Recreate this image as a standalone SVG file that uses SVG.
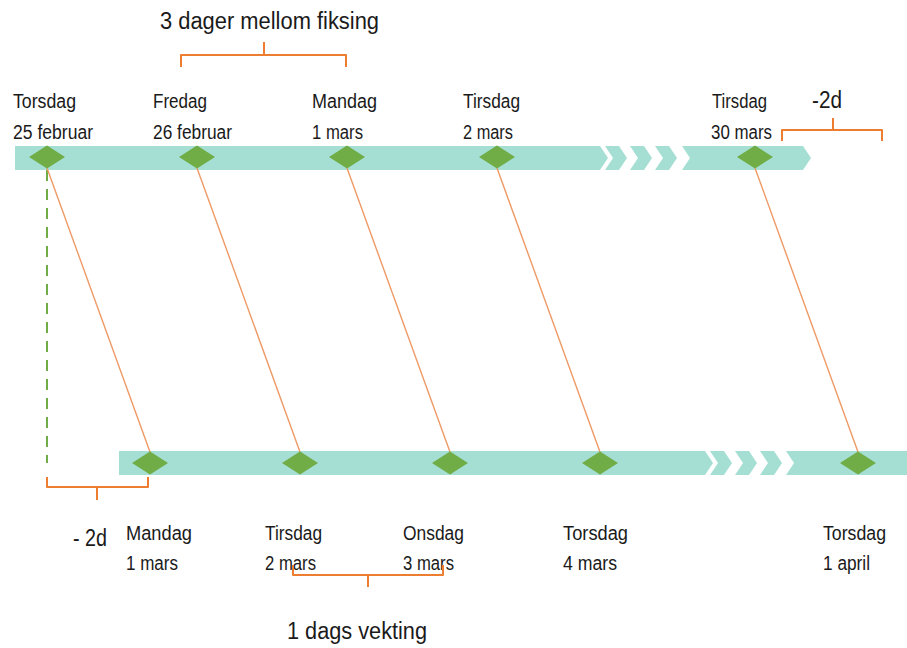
<svg xmlns="http://www.w3.org/2000/svg" width="907" height="648" viewBox="0 0 907 648">
<defs>
<style>
.bar{fill:#A5DFD3}
.dia{fill:#70AD47}
.lbl{font-family:"Liberation Sans",Arial,sans-serif;font-size:19.5px;fill:#1a1a1a}
.big{font-family:"Liberation Sans",Arial,sans-serif;font-size:23px;fill:#1a1a1a}
.br{fill:none;stroke:#ED7D31;stroke-width:2;stroke-linejoin:round}
.con{stroke:#EE9A66;stroke-width:1.4;fill:none}
.dash{stroke:#70AD47;stroke-width:2;stroke-dasharray:11 8;fill:none}
</style>
<polygon id="d" class="dia" points="0,-11.5 18,0 0,11.5 -18,0"/>
</defs>
<rect width="907" height="648" fill="#ffffff"/>

<g id="bar-top">
<polygon class="bar" points="15,146 600,146 608,158 600,170 15,170"/>
<polygon class="bar" points="605,146 619,146 627,158 619,170 605,170 613,158"/>
<polygon class="bar" points="630,146 644,146 652,158 644,170 630,170 638,158"/>
<polygon class="bar" points="655,146 669,146 677,158 669,170 655,170 663,158"/>
<polygon class="bar" points="682,146 803,146 811,158 803,170 682,170 690,158"/>
</g>
<g id="bar-bottom">
<polygon class="bar" points="119,451 705,451 713,463 705,475 119,475"/>
<polygon class="bar" points="710,451 724,451 732,463 724,475 710,475 718,463"/>
<polygon class="bar" points="735,451 749,451 757,463 749,475 735,475 743,463"/>
<polygon class="bar" points="760,451 774,451 782,463 774,475 760,475 768,463"/>
<polygon class="bar" points="786,451 907,451 907,475 786,475 794,463"/>
</g>

<g id="connectors">
<line class="dash" x1="47" y1="170" x2="47" y2="463"/>
<line class="con" x1="47" y1="168" x2="150" y2="452"/>
<line class="con" x1="197" y1="168" x2="300" y2="452"/>
<line class="con" x1="347" y1="168" x2="450" y2="452"/>
<line class="con" x1="497" y1="168" x2="600" y2="452"/>
<line class="con" x1="755" y1="168" x2="858" y2="452"/>
</g>

<g id="top-1"><use href="#d" x="47" y="157"/>
<text class="lbl" x="13" y="108" textLength="63" lengthAdjust="spacingAndGlyphs">Torsdag</text>
<text class="lbl" x="13" y="139" textLength="80" lengthAdjust="spacingAndGlyphs">25 februar</text></g>
<g id="top-2"><use href="#d" x="197" y="157"/>
<text class="lbl" x="153" y="108" textLength="54" lengthAdjust="spacingAndGlyphs">Fredag</text>
<text class="lbl" x="153" y="139" textLength="79" lengthAdjust="spacingAndGlyphs">26 februar</text></g>
<g id="top-3"><use href="#d" x="347" y="157"/>
<text class="lbl" x="312" y="108" textLength="65" lengthAdjust="spacingAndGlyphs">Mandag</text>
<text class="lbl" x="312" y="139" textLength="51" lengthAdjust="spacingAndGlyphs">1 mars</text></g>
<g id="top-4"><use href="#d" x="497" y="157"/>
<text class="lbl" x="463" y="108" textLength="57" lengthAdjust="spacingAndGlyphs">Tirsdag</text>
<text class="lbl" x="463" y="139" textLength="50" lengthAdjust="spacingAndGlyphs">2 mars</text></g>
<g id="top-5"><use href="#d" x="755" y="157"/>
<text class="lbl" x="712" y="108" textLength="55" lengthAdjust="spacingAndGlyphs">Tirsdag</text>
<text class="lbl" x="711" y="139" textLength="61" lengthAdjust="spacingAndGlyphs">30 mars</text></g>

<g id="bot-1"><use href="#d" x="150" y="463"/>
<text class="lbl" x="126" y="540" textLength="66" lengthAdjust="spacingAndGlyphs">Mandag</text>
<text class="lbl" x="126" y="570" textLength="52" lengthAdjust="spacingAndGlyphs">1 mars</text></g>
<g id="bot-2"><use href="#d" x="300" y="463"/>
<text class="lbl" x="265" y="540" textLength="57" lengthAdjust="spacingAndGlyphs">Tirsdag</text>
<text class="lbl" x="265" y="570" textLength="51" lengthAdjust="spacingAndGlyphs">2 mars</text></g>
<g id="bot-3"><use href="#d" x="450" y="463"/>
<text class="lbl" x="403" y="540" textLength="61" lengthAdjust="spacingAndGlyphs">Onsdag</text>
<text class="lbl" x="403" y="570" textLength="51" lengthAdjust="spacingAndGlyphs">3 mars</text></g>
<g id="bot-4"><use href="#d" x="600" y="463"/>
<text class="lbl" x="563" y="540" textLength="65" lengthAdjust="spacingAndGlyphs">Torsdag</text>
<text class="lbl" x="563" y="570" textLength="54" lengthAdjust="spacingAndGlyphs">4 mars</text></g>
<g id="bot-5"><use href="#d" x="858" y="463"/>
<text class="lbl" x="823" y="540" textLength="63" lengthAdjust="spacingAndGlyphs">Torsdag</text>
<text class="lbl" x="823" y="570" textLength="47" lengthAdjust="spacingAndGlyphs">1 april</text></g>

<g id="bracket-fiksing">
<path class="br" d="M181,67 V55 H346 V67 M264,55 V42"/>
<text class="big" x="160" y="29" textLength="219" lengthAdjust="spacingAndGlyphs">3 dager mellom fiksing</text>
</g>
<g id="bracket-top-2d">
<path class="br" d="M782,141 V130 H882 V141 M833,130 V118"/>
<text class="big" x="812" y="108" textLength="30" lengthAdjust="spacingAndGlyphs">-2d</text>
</g>
<g id="bracket-bottom-2d">
<path class="br" d="M47,477 V487 H148 V477 M97,487 V500"/>
<text class="big" x="73" y="546" textLength="34" lengthAdjust="spacingAndGlyphs">- 2d</text>
</g>
<g id="bracket-vekting">
<path class="br" d="M293,565 V575 H443 V565 M368,575 V587"/>
<text class="big" x="287" y="639" textLength="140" lengthAdjust="spacingAndGlyphs">1 dags vekting</text>
</g>
</svg>
